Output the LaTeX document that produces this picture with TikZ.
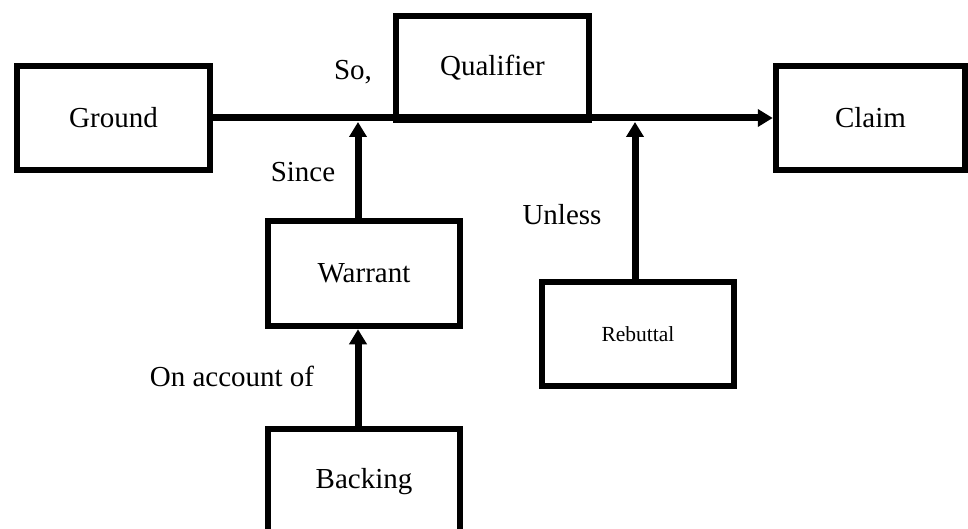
\documentclass[tikz,border=0pt]{standalone}
\usepackage{fontspec}
\setmainfont{Liberation Serif}
\usetikzlibrary{arrows.meta}
\begin{document}
\begin{tikzpicture}[x=1pt,y=-1pt,
  box/.style={draw=black,line width=6.5pt,minimum width=#1,inner sep=0pt,font=\fontsize{29}{33}\selectfont},
  lbl/.style={font=\fontsize{29}{33}\selectfont,inner sep=0pt},
  arr/.style={line width=7pt,-{Triangle[width=17pt,length=15pt]}}]
\useasboundingbox (0,0) rectangle (968,529);
\fill[white] (0,0) rectangle (968,529);
\node[box=193pt,minimum height=104pt] (g) at (113.5,118) {Ground};
\node[box=193pt,minimum height=104pt] (q) at (492.5,68) {Qualifier};
\node[box=189pt,minimum height=104pt] (c) at (870.5,118) {Claim};
\node[box=192pt,minimum height=105pt] (w) at (364,273.5) {Warrant};
\node[box=192pt,minimum height=104pt,font=\fontsize{21.5}{24}\selectfont] (r) at (638,334) {Rebuttal};
\node[box=192pt,minimum height=106pt] (b) at (364,482) {Backing};
\coordinate (j1) at (358,122);
\coordinate (j2) at (635,122);
\draw[arr] (g.east) -- (c.west);
\draw[arr] (w.north -| j1) -- (j1);
\draw[arr] (r.north -| j2) -- (j2);
\draw[arr] (b.north -| j1) -- (w.south -| j1);
\node[lbl] (so) at (353,72) {So,};
\node[lbl] (since) at (303,172) {Since};
\node[lbl] (unless) at (562,215) {Unless};
\node[lbl] (oao) at (232,376) {On account of};
\end{tikzpicture}
\end{document}
